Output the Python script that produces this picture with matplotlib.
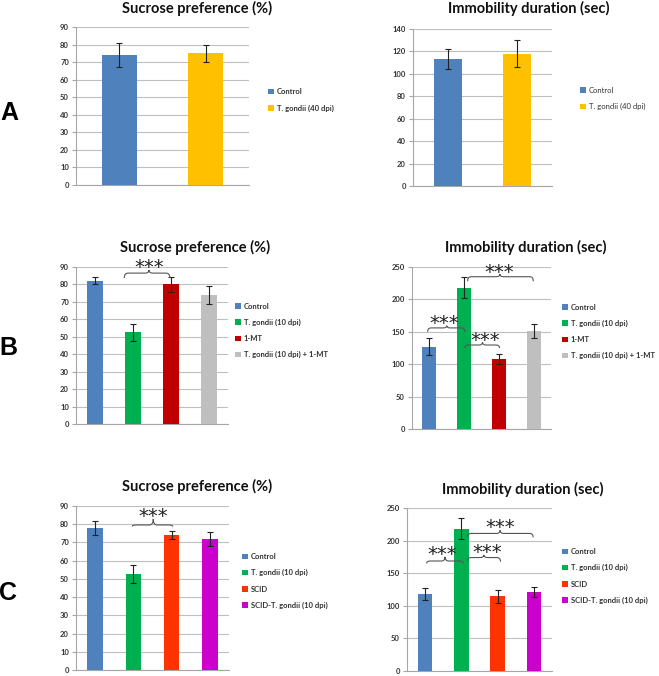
import matplotlib
matplotlib.use("Agg")
import matplotlib.pyplot as plt
from matplotlib.path import Path
from matplotlib.patches import PathPatch
from matplotlib.transforms import ScaledTranslation
import numpy as np

W, H = 659, 676

# ---------------- data ----------------
a_labels = ["Control", "T. gondii (40 dpi)"]
a_sucrose = [74, 75]
a_sucrose_err = [7, 5]
a_immob = [113, 118]
a_immob_err = [9, 12]

b_labels = ["Control", "T. gondii (10 dpi)", "1-MT", "T. gondii (10 dpi) + 1-MT"]
b_sucrose = [82, 52.5, 80, 74]
b_sucrose_err = [2, 5, 4.5, 5.2]
b_immob = [127, 218, 108, 151]
b_immob_err = [13, 16.5, 7, 11]

c_labels = ["Control", "T. gondii (10 dpi)", "SCID", "SCID-T. gondii (10 dpi)"]
c_sucrose = [78, 52.5, 74, 72]
c_sucrose_err = [4, 5, 2.3, 3.8]
c_immob = [118, 218, 115, 121]
c_immob_err = [9, 16, 10, 8]

a_colors = ["#4F81BD", "#FFC000"]
b_colors = ["#4F81BD", "#00B050", "#C00000", "#BFBFBF"]
c_colors = ["#4F81BD", "#00B050", "#FF3300", "#CC00CC"]

title_sucrose = "Sucrose preference (%)"
title_immob = "Immobility duration (sec)"
stars = "***"

FONT = "Lato"
plt.rcParams["font.family"] = [FONT, "DejaVu Sans"]

fig = plt.figure(figsize=(W / 100, H / 100), dpi=100)
fig.patch.set_facecolor("white")


def px_axes(x0, y0, x1, y1):
    return fig.add_axes([x0 / W, 1 - y1 / H, (x1 - x0) / W, (y1 - y0) / H])


def draw_panel(rect, labels, vals, errs, colors, ymax, ystep, legend_xy, title, title_xy,
               legend_weight="bold"):
    ax = px_axes(*rect)
    x = np.arange(len(vals))
    bars = ax.bar(x, vals, width=0.4, color=colors, zorder=3)
    ax.errorbar(x, vals, yerr=errs, fmt="none", ecolor="#222222", elinewidth=0.8,
                capsize=2, capthick=0.8, zorder=4)
    ax.set_xlim(-0.5, len(vals) - 0.5)
    ax.set_ylim(0, ymax)
    ax.set_yticks(np.arange(0, ymax + 1, ystep))
    ax.set_xticks([])
    ax.grid(axis="y", color="#BFBFBF", lw=0.8, zorder=0)
    for s in ["top", "right"]:
        ax.spines[s].set_visible(False)
    for s in ["left", "bottom"]:
        ax.spines[s].set_color("#A6A6A6")
        ax.spines[s].set_linewidth(0.8)
    ax.tick_params(axis="y", length=3, width=0.8, color="#A6A6A6", labelsize=5.5, pad=2)
    for t in ax.get_yticklabels():
        t.set_fontweight("bold")
        t.set_color("#333333")
    leg = ax.legend(bars, labels, loc="center left",
                    bbox_to_anchor=(legend_xy[0] / W, 1 - legend_xy[1] / H),
                    bbox_transform=fig.transFigure, frameon=False,
                    prop={"family": FONT, "weight": legend_weight, "size": 5.5},
                    handlelength=0.75, handleheight=0.75, handletextpad=0.4,
                    labelspacing=1.2, borderpad=0, borderaxespad=0)
    for t in leg.get_texts():
        t.set_color("#333333")
    fig.text(title_xy[0] / W, 1 - title_xy[1] / H, title, ha="center", va="center",
             fontsize=10.5, fontweight="bold", color="#111111")
    return ax


def brace(ax, x0, x1, xm, y_end, y_mid, y_tip, star_x, star_y):
    r = 0.1
    verts = [
        (x0, y_end), (x0, y_mid), (x0 + r, y_mid),
        (xm - r, y_mid), (xm, y_mid), (xm, y_tip),
        (xm, y_mid), (xm + r, y_mid),
        (x1 - r, y_mid), (x1, y_mid), (x1, y_end),
    ]
    codes = [Path.MOVETO, Path.CURVE3, Path.CURVE3,
             Path.LINETO, Path.CURVE3, Path.CURVE3,
             Path.CURVE3, Path.CURVE3,
             Path.LINETO, Path.CURVE3, Path.CURVE3]
    p = PathPatch(Path(verts, codes), fill=False, ec="#555555", lw=0.8,
                  clip_on=False, zorder=5)
    ax.add_patch(p)
    tr = ax.transData + ScaledTranslation(0, -3.6 / 72, fig.dpi_scale_trans)
    ax.text(star_x, star_y, stars, ha="center", va="center", fontsize=14,
            family="DejaVu Sans", color="#222222", clip_on=False, zorder=6,
            transform=tr)


# Panel A
draw_panel((76, 27, 249, 185), a_labels, a_sucrose, a_sucrose_err, a_colors, 90, 10,
           (268, 100), title_sucrose, (197, 8))
draw_panel((413, 29, 552, 186), a_labels, a_immob, a_immob_err, a_colors, 140, 20,
           (580, 98.5), title_immob, (529, 8), legend_weight="normal")

# Panel B
axbl = draw_panel((76, 267, 228, 424), b_labels, b_sucrose, b_sucrose_err, b_colors, 90, 10,
                  (235, 330.5), title_sucrose, (195, 247))
axbr = draw_panel((412, 267, 551, 429), b_labels, b_immob, b_immob_err, b_colors, 250, 50,
                  (562, 331.5), title_immob, (526, 247))

# Panel C
axcl = draw_panel((76, 506, 229, 670), c_labels, c_sucrose, c_sucrose_err, c_colors, 90, 10,
                  (242, 581), title_sucrose, (197, 486))
axcr = draw_panel((407, 508, 552, 671), c_labels, c_immob, c_immob_err, c_colors, 250, 50,
                  (562, 576), title_immob, (523, 489))

# significance braces
brace(axbl, 0.77, 1.97, 1.42, 83.7, 86.5, 88.2, 1.42, 92.5)
brace(axbr, -0.05, 1.02, 0.5, 150, 156, 159.5, 0.42, 171)
brace(axbr, 1.02, 2.02, 1.53, 125, 129.6, 134, 1.6, 144)
brace(axbr, 1.1, 2.99, 2.03, 228, 235, 239, 2.0, 248.5)
brace(axcl, 0.97, 2.03, 1.52, 78.7, 79.6, 82.9, 1.52, 87)
brace(axcr, 0.04, 1.05, 0.55, 165, 168.7, 175, 0.46, 186)
brace(axcr, 1.17, 2.08, 1.62, 167.6, 174, 178, 1.7, 190)
brace(axcr, 1.17, 2.98, 2.07, 205, 211, 216, 2.07, 228)

# panel letters
for letter, (lx, ly) in zip(["A", "B", "C"], [(9, 113), (8, 348), (8, 593)]):
    fig.text(lx / W, 1 - ly / H, letter, ha="center", va="center", fontsize=18,
             fontweight="bold", family="Liberation Sans", color="black")

fig.savefig("out.png", dpi=100, facecolor="white")
